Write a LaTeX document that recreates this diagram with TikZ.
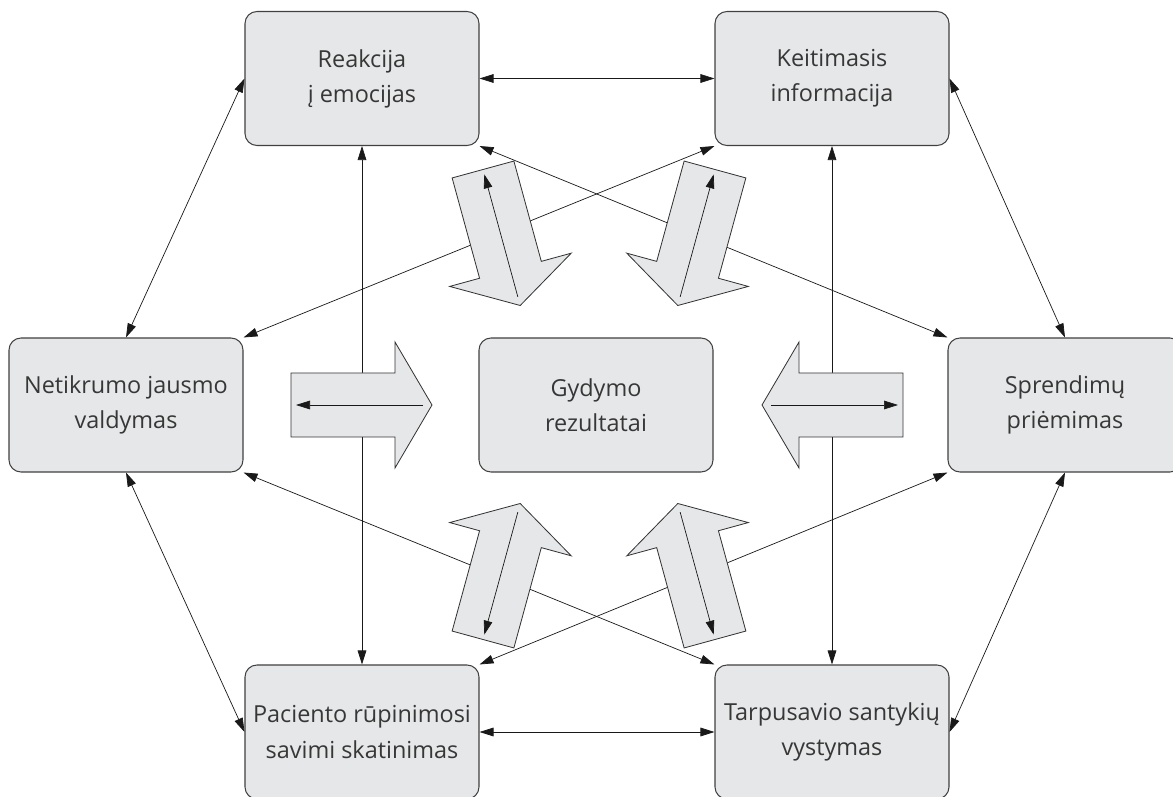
\documentclass[tikz,border=0pt]{standalone}
\usepackage{fontspec}
\setmainfont{Open Sans}
\usepackage{tikz}
\usetikzlibrary{arrows.meta,positioning}
\definecolor{boxgray}{RGB}{230,231,232}
\definecolor{edgegray}{RGB}{65,65,65}
\definecolor{textgray}{RGB}{55,55,55}

\begin{document}
\begin{tikzpicture}[x=0.03cm, y=-0.03cm,
  box/.style={draw=edgegray, line width=0.9pt, fill=boxgray, rounded corners=0.36cm,
              minimum width=7.02cm, minimum height=4.02cm, align=center,
              text=textgray, font=\fontsize{20}{30}\selectfont},
  link/.style={black!90, line width=0.6pt,
               {Triangle[length=4.2mm,width=2.6mm]}-{Triangle[length=4.2mm,width=2.6mm]}},
  inlink/.style={black!90, line width=0.6pt, -{Triangle[length=4.2mm,width=2.6mm]}},
  fatarrow/.style={draw=black!80, line width=0.7pt, fill=boxgray}]
  \useasboundingbox (0,0) rectangle (1173,797);
  \clip (0,0) rectangle (1173,797);
  % Boxes
  \node[box] (reak)  at (362,78.5) {Reakcija\\į emocijas};
  \node[box] (keit)  at (832,78.5) {Keitimasis\\informacija};
  \node[box] (netik) at (126,405)  {Netikrumo jausmo\\valdymas};
  \node[box] (gyd)   at (596,405)  {Gydymo\\rezultatai};
  \node[box] (spr)   at (1065,405) {Sprendimų\\priėmimas};
  \node[box] (pac)   at (362,732)  {Paciento rūpinimosi\\savimi skatinimas};
  \node[box] (tarp)  at (832,732)  {Tarpusavio santykių\\vystymas};
  % Outer ring
  \draw[link] (reak.east) -- (keit.west);
  \draw[link] (reak.west) -- (netik.north);
  \draw[link] (keit.east) -- (spr.north);
  \draw[link] (netik.south) -- (pac.west);
  \draw[link] (spr.south) -- (tarp.east);
  \draw[link] (pac.east) -- (tarp.west);
  % Verticals and crossings
  \draw[link] (reak.south) -- (pac.north);
  \draw[link] (keit.south) -- (tarp.north);
  \draw[link] (reak.south east) -- (spr.north west);
  \draw[link] (keit.south west) -- (netik.north east);
  \draw[link] (netik.south east) -- (tarp.north west);
  \draw[link] (spr.south west) -- (pac.north east);
  % Block arrows towards the centre
  \foreach \px/\py/\ang in {291/405/0, 903/405/180, 483/169.5/-74.7, 715/169.5/-105.3,
                            483/639.5/74.7, 715/639.5/105.3}{
    \begin{scope}[shift={(\px,\py)}, rotate=\ang]
      \draw[fatarrow] (0,-32) -- (104,-32) -- (104,-63) -- (141,0)
                      -- (104,63) -- (104,32) -- (0,32) -- cycle;
      \draw[inlink] (132,0) -- (5,0);
    \end{scope}
  }
\end{tikzpicture}
\end{document}
